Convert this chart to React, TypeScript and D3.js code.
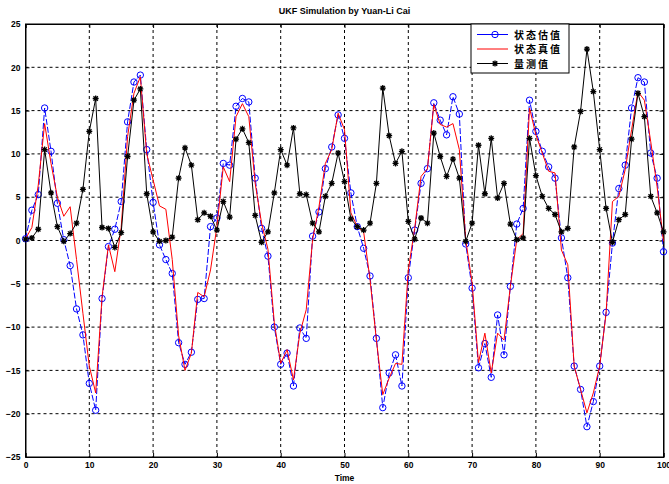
import React, { useEffect, useRef } from "react";
import * as d3 from "d3";

// time steps 0..100
const steps = d3.range(0, 101);

// 状态估值 (UKF estimate)
const estimate = [
  0.2, 3.5, 5.3, 15.3, 10.3, 4.3, 0.1, -2.9, -7.9, -10.9,
  -16.5, -19.6, -6.7, -0.7, 1.3, 4.5, 13.7, 18.3, 19.1, 10.5,
  4.4, -0.5, -2.2, -3.8, -11.8, -14.3, -12.9, -6.8, -6.7, 1.6,
  2.6, 8.9, 8.7, 15.5, 16.4, 16, 7.2, 1.4, -1.8, -10,
  -14.3, -13, -16.8, -10.1, -11.3, 0.5, 3.3, 8.3, 10.8, 14.5,
  11.8, 5.5, 1.6, -0.9, -4.1, -11.3, -19.3, -15.3, -13.2, -16.8,
  -4.3, 1.2, 6.6, 8.3, 15.9, 13.9, 12.2, 16.6, 14.6, -0.4,
  -5.5, -14.7, -11.9, -15.8, -8.6, -13.2, -5.3, 1.9, 3.7, 16.2,
  12.6, 10.3, 8.5, 7.2, 0.3, -4.3, -14.5, -17.2, -21.5, -18.6,
  -14.5, -8.3, -0.3, 6, 8.7, 15.3, 18.8, 18.3, 10.1, 7.2,
  -1.3,
];

// 状态真值 (true state)
const truth = [
  0.2, 1.5, 6.4, 13.5, 8.9, 5, 2.8, 3.9, -2.2, -8.4,
  -14.5, -17.6, -6.5, -0.5, -3.6, 1.5, 12, 17, 18.9, 10,
  7, 4, 3.6, -2.2, -11, -15, -13, -6, -6.5, -3.4,
  1.6, 8.5, 6.8, 14.3, 15.8, 14.3, 6.6, 2, -1, -9.5,
  -14.2, -12.6, -16.1, -10.7, -8, 0.1, 3.9, 8.9, 10.5, 14.7,
  12.8, 3.2, 1.6, 1, -4.5, -11.5, -17.8, -15.9, -14.2, -14.3,
  -3.4, 1.4, 7.4, 8.3, 15.7, 13.4, 13.1, 13.5, 10.5, 0.1,
  -4.9, -14.1, -10.7, -15.3, -10.7, -11.5, -5.3, 0.1, 0.8, 15.3,
  12.2, 10.1, 8, 7.8, -1.1, -2.8, -14.5, -17.2, -19.9, -17.6,
  -14.5, -8.4, 4.5, 5.1, 8.2, 12.8, 17.2, 16.2, 11.4, 6.2,
  -0.1,
];

// 量测值 (measurement)
const measured = [
  0.15, 0.3, 1.3, 10.5, 5.5, 1.6, -0.1, 0.8, 2, 5.9,
  12.6, 16.4, 1.5, 1.4, -0.8, 0.9, 9.7, 16.2, 17.5, 5.4,
  1, -0.1, 0, 0.4, 7.2, 10.7, 8.7, 2.4, 3.2, 2.8,
  1.2, 4.5, 2.7, 11.7, 12.9, 11.3, 2.9, -0.2, 1, 5.5,
  10.5, 8.7, 13, 5.4, 5.3, 2, 1, 5.1, 6.6, 10.1,
  6.8, 2.5, 1.6, 1.2, 2, 6.6, 17.6, 12.1, 8.9, 10.3,
  2.2, 0.15, 2.6, 2, 12.4, 9.7, 7.4, 9.4, 7.2, -0.1,
  2, 11, 5.4, 11.8, 4.9, 6.6, 1.9, 0.1, 0.3, 11.8,
  7.5, 5.1, 3.7, 3, 1, 1.4, 10.8, 14.9, 22.1, 17.2,
  10.5, 3.7, -0.2, 2.4, 3, 11.7, 17, 14.3, 5.1, 3.2,
  1,
];

const xTicks = [0, 10, 20, 30, 40, 50, 60, 70, 80, 90, 100];
const yTicks = [-25, -20, -15, -10, -5, 0, 5, 10, 15, 20, 25];
const legendLabels = ["状态估值", "状态真值", "量测值"];

const starPath = "M-3,0H3M0,-3V3M-2.2,-2.2L2.2,2.2M-2.2,2.2L2.2,-2.2";

function App() {
  const ref = useRef<SVGSVGElement>(null);

  useEffect(() => {
    const width = 669;
    const height = 484;
    const margin = { top: 24, right: 5.5, bottom: 27, left: 25.5 };
    const innerWidth = width - margin.left - margin.right;
    const innerHeight = height - margin.top - margin.bottom;

    const svg = d3.select(ref.current).attr("width", width).attr("height", height);
    svg.selectAll("*").remove();
    svg.append("rect").attr("width", width).attr("height", height).attr("fill", "white");

    const g = svg.append("g").attr("transform", `translate(${margin.left},${margin.top})`);
    const x = d3.scaleLinear().domain([0, 100]).range([0, innerWidth]);
    const y = d3.scaleLinear().domain([-25, 25]).range([innerHeight, 0]);
    const font = "'Liberation Sans', Arial, sans-serif";

    // grid
    g.selectAll(".vgrid").data(xTicks.slice(1, -1)).join("line").attr("class", "vgrid")
      .attr("x1", d => x(d)).attr("x2", d => x(d)).attr("y1", 0).attr("y2", innerHeight)
      .attr("stroke", "#000").attr("stroke-width", 1).attr("stroke-dasharray", "3,3");
    g.selectAll(".hgrid").data(yTicks.slice(1, -1)).join("line").attr("class", "hgrid")
      .attr("y1", d => y(d)).attr("y2", d => y(d)).attr("x1", 0).attr("x2", innerWidth)
      .attr("stroke", "#000").attr("stroke-width", 1).attr("stroke-dasharray", "3,3");

    // axes with inward ticks
    const xAxis = g.append("g").attr("transform", `translate(0,${innerHeight})`)
      .call(d3.axisBottom(x).tickValues(xTicks).tickSize(-4).tickPadding(5).tickFormat(d3.format("d")));
    const yAxis = g.append("g")
      .call(d3.axisLeft(y).tickValues(yTicks).tickSize(-4).tickPadding(5).tickFormat(d3.format("d")));
    g.append("g").call(d3.axisTop(x).tickValues(xTicks).tickSize(-4).tickFormat(() => ""));
    g.append("g").attr("transform", `translate(${innerWidth},0)`)
      .call(d3.axisRight(y).tickValues(yTicks).tickSize(-4).tickFormat(() => ""));
    [xAxis, yAxis].forEach(a => a.selectAll("text").attr("font-family", font).attr("font-size", 8.5)
      .attr("font-weight", "bold").attr("fill", "#000"));
    g.selectAll(".domain").attr("stroke", "#000");
    g.selectAll(".tick line").attr("stroke", "#000");
    g.append("rect").attr("width", innerWidth).attr("height", innerHeight)
      .attr("fill", "none").attr("stroke", "#000");

    const line = d3.line<number>().x((_, i) => x(steps[i])).y(d => y(d));

    // estimate (blue, circles)
    g.append("path").datum(estimate).attr("d", line).attr("fill", "none")
      .attr("stroke", "#0000ff").attr("stroke-width", 1).attr("stroke-dasharray", "6,2");
    g.selectAll(".est").data(estimate).join("circle").attr("class", "est")
      .attr("cx", (_, i) => x(steps[i])).attr("cy", d => y(d)).attr("r", 3.2)
      .attr("fill", "none").attr("stroke", "#0000ff").attr("stroke-width", 1);

    // truth (red)
    g.append("path").datum(truth).attr("d", line).attr("fill", "none")
      .attr("stroke", "#ff0000").attr("stroke-width", 1);

    // measurement (black, stars)
    g.append("path").datum(measured).attr("d", line).attr("fill", "none")
      .attr("stroke", "#000").attr("stroke-width", 1);
    g.selectAll(".meas").data(measured).join("path").attr("class", "meas")
      .attr("transform", (d, i) => `translate(${x(steps[i])},${y(d)})`)
      .attr("d", starPath).attr("stroke", "#000").attr("stroke-width", 1.3);

    // title and x label
    svg.append("text").text("UKF Simulation by Yuan-Li Cai").attr("x", margin.left + innerWidth / 2)
      .attr("y", 14).attr("text-anchor", "middle").attr("font-family", font)
      .attr("font-size", 9).attr("font-weight", "bold");
    svg.append("text").text("Time").attr("x", margin.left + innerWidth / 2).attr("y", 481)
      .attr("text-anchor", "middle").attr("font-family", font)
      .attr("font-size", 8.5).attr("font-weight", "bold");

    // legend
    const lg = svg.append("g").attr("transform", "translate(471,24)");
    lg.append("rect").attr("width", 98).attr("height", 49).attr("fill", "white").attr("stroke", "#000");
    const colors = ["#0000ff", "#ff0000", "#000"];
    legendLabels.forEach((label, i) => {
      const ly = 10.5 + i * 14.5;
      lg.append("line").attr("x1", 6).attr("x2", 37).attr("y1", ly).attr("y2", ly)
        .attr("stroke", colors[i]).attr("stroke-width", 1);
      if (i === 0) {
        lg.append("circle").attr("cx", 24).attr("cy", ly).attr("r", 3.2)
          .attr("fill", "none").attr("stroke", colors[i]);
      }
      if (i === 2) {
        lg.append("path").attr("transform", `translate(24,${ly})`).attr("d", starPath)
          .attr("stroke", "#000").attr("stroke-width", 1.3);
      }
      lg.append("text").text(label).attr("x", 43).attr("y", ly + 4)
        .attr("font-family", "'Noto Sans CJK SC', sans-serif").attr("font-size", 10)
        .attr("font-weight", "bold").attr("letter-spacing", 2).attr("fill", "#000");
    });
  }, []);

  return (
    <svg ref={ref} style={{ position: "absolute", left: 0, top: 0, display: "block" }}></svg>
  );
}

export default App;
